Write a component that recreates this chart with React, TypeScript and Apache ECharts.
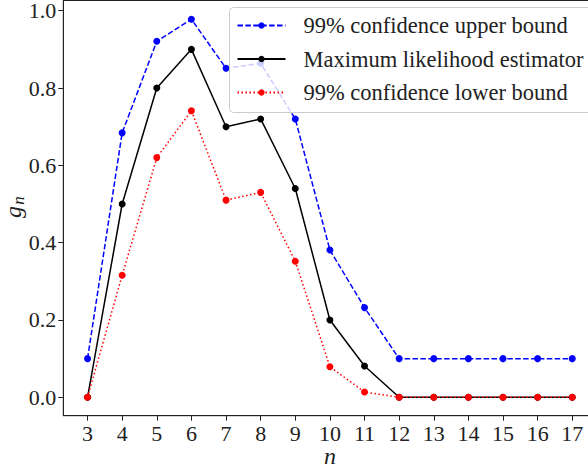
import React, { useEffect, useRef } from "react";
import * as echarts from "echarts";

const nValues = [3, 4, 5, 6, 7, 8, 9, 10, 11, 12, 13, 14, 15, 16, 17];
const upperBound = [0.1, 0.684, 0.921, 0.978, 0.851, 0.864, 0.72, 0.381, 0.232, 0.1, 0.1, 0.1, 0.1, 0.1, 0.1];
const mleValues = [0, 0.5, 0.8, 0.9, 0.7, 0.72, 0.54, 0.2, 0.081, 0, 0, 0, 0, 0, 0];
const lowerBound = [0, 0.3155, 0.62, 0.741, 0.51, 0.53, 0.352, 0.079, 0.0137, 0, 0, 0, 0, 0, 0];
const yTicks = [0, 0.2, 0.4, 0.6, 0.8, 1.0];
const seriesNames = ["99% confidence upper bound", "Maximum likelihood estimator", "99% confidence lower bound"];

const FONT = "'Liberation Serif', 'DejaVu Serif', serif";

export default function App() {
  const ref = useRef<HTMLDivElement>(null);
  useEffect(() => {
    if (!ref.current) return;
    const chart = echarts.init(ref.current, null, { renderer: "svg" });
    const pairs = (vals: number[]) => nValues.map((n, i) => [n, vals[i]]);
    chart.setOption({
      animation: false,
      grid: {
        left: 63.3,
        top: 0.5,
        right: -8.5,
        bottom: 56.3,
        containLabel: false,
        outerBoundsMode: "none",
        show: true,
        borderColor: "#222",
        borderWidth: 1,
        backgroundColor: "transparent",
      },
      graphic: [
        {
          type: "text",
          x: 13,
          y: 212,
          rotation: Math.PI / 2,
          style: {
            text: "g",
            align: "center",
            verticalAlign: "middle",
            fontFamily: FONT,
            fontSize: 24,
            fontStyle: "italic",
            fill: "#222",
          },
        },
        {
          type: "text",
          x: 18.5,
          y: 200.5,
          rotation: Math.PI / 2,
          style: {
            text: "n",
            align: "center",
            verticalAlign: "middle",
            fontFamily: FONT,
            fontSize: 17,
            fontStyle: "italic",
            fill: "#222",
          },
        },
      ],
      legend: {
        orient: "vertical",
        left: 229.5,
        top: 7.5,
        data: seriesNames,
        itemWidth: 48,
        itemHeight: 8,
        itemGap: 9.5,
        padding: [6, 12, 8, 7],
        backgroundColor: "rgba(255,255,255,0.8)",
        borderColor: "#cccccc",
        borderWidth: 1,
        borderRadius: 4,
        textStyle: {
          fontFamily: FONT,
          fontSize: 22.5,
          color: "#222",
          lineHeight: 24,
          padding: [0, 0, 0, 13],
        },
      },
      xAxis: {
        type: "value",
        min: 2.3,
        max: 17.7,
        name: "n",
        nameLocation: "middle",
        nameGap: 28,
        nameMoveOverlap: false,
        nameTextStyle: { fontFamily: FONT, fontSize: 24, fontStyle: "italic", color: "#222" },
        axisLine: { show: true, onZero: false, lineStyle: { color: "#222", width: 1 } },
        axisTick: { show: true, length: 5, customValues: nValues, lineStyle: { color: "#222" } },
        axisLabel: {
          customValues: nValues,
          fontFamily: FONT,
          fontSize: 22,
          color: "#222",
          margin: 7,
        },
        splitLine: { show: false },
      },
      yAxis: {
        type: "value",
        min: -0.0476,
        max: 1.0264,
        axisLine: { show: true, onZero: false, lineStyle: { color: "#222", width: 1 } },
        axisTick: { show: true, length: 5, customValues: yTicks, lineStyle: { color: "#222" } },
        axisLabel: {
          customValues: yTicks,
          formatter: (v: number) => v.toFixed(1),
          fontFamily: FONT,
          fontSize: 22,
          color: "#222",
          margin: 7,
        },
        splitLine: { show: false },
      },
      series: [
        {
          name: seriesNames[0],
          type: "line",
          data: pairs(upperBound),
          symbol: "circle",
          symbolSize: 7,
          itemStyle: { color: "#0000ff" },
          lineStyle: { color: "#0000ff", width: 1.5, type: [5.5, 2.4] },
        },
        {
          name: seriesNames[1],
          type: "line",
          data: pairs(mleValues),
          symbol: "circle",
          symbolSize: 7,
          itemStyle: { color: "#000000" },
          lineStyle: { color: "#000000", width: 1.5, type: "solid" },
        },
        {
          name: seriesNames[2],
          type: "line",
          data: pairs(lowerBound),
          symbol: "circle",
          symbolSize: 7,
          itemStyle: { color: "#ff0000" },
          lineStyle: { color: "#ff0000", width: 1.5, type: [1.5, 2.5] },
        },
      ],
    });
    return () => chart.dispose();
  }, []);
  return <div ref={ref} style={{ position: "absolute", left: 0, top: 0, width: 588, height: 472 }} />;
}
